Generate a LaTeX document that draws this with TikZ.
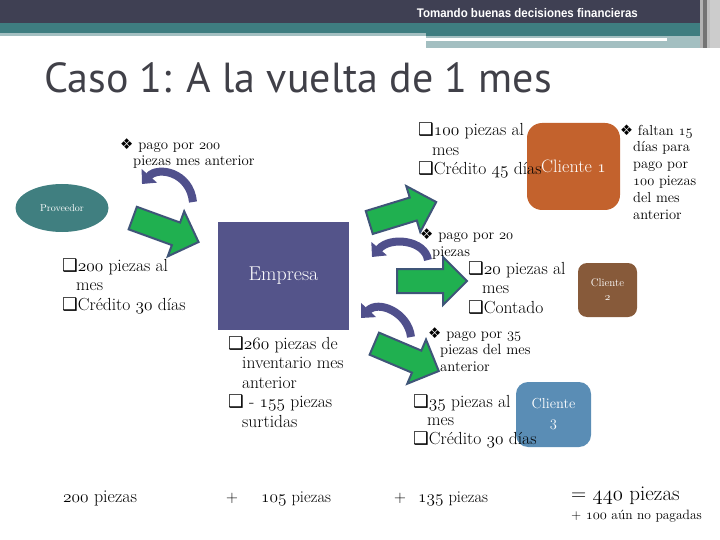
\documentclass[tikz,border=0pt]{standalone}
\usepackage{fontspec}
\usetikzlibrary{shapes.geometric,shapes.arrows,arrows.meta}

\definecolor{hdrdark}{RGB}{63,64,83}
\definecolor{hdrteal}{RGB}{62,125,128}
\definecolor{hdrlight}{RGB}{163,191,193}
\definecolor{titlegray}{RGB}{64,64,72}
\definecolor{provteal}{RGB}{64,127,128}
\definecolor{empblue}{RGB}{84,84,138}
\definecolor{arrgreen}{RGB}{32,176,80}
\definecolor{arredge}{RGB}{63,85,120}
\definecolor{curvblue}{RGB}{80,80,140}
\definecolor{cliorange}{RGB}{195,98,45}
\definecolor{clibrown}{RGB}{135,90,58}
\definecolor{clisteel}{RGB}{90,141,181}

\newfontfamily\dingf{DejaVu Sans}
\newfontfamily\headf[FakeStretch=0.92]{Liberation Sans}
\newfontfamily\titlef{PT Sans}

% old style figures
\newcommand\os[1]{{\fontencoding{OML}\fontfamily{lmm}\fontseries{m}\fontshape{it}\selectfont #1}}
\newcommand\ck{{\dingf ❑}}
\newcommand\dm{{\dingf ❖}}

% multi-line nodes are placed by the baseline of their last line
\tikzset{
  lst/.style={anchor=base west, align=left, inner sep=0pt, font=\fontsize{17.5}{19.5}\selectfont},
  sml/.style={anchor=base west, align=left, inner sep=0pt, font=\fontsize{14.8}{16.5}\selectfont},
  sumtxt/.style={anchor=base west, inner sep=0pt, font=\fontsize{16.5}{18}\selectfont},
  garrow/.style={single arrow, draw=arredge, fill=arrgreen, line width=2pt,
    minimum height=70pt, inner xsep=0pt, inner ysep=11pt, single arrow head extend=12pt},
  curv/.style={draw=curvblue, line width=8pt, -{Triangle[width=20pt,length=11pt]}},
  clibox/.style={inner sep=0pt, text=white, align=center},
}

\begin{document}
\begin{tikzpicture}[x=1pt,y=-1pt]
\useasboundingbox (0,0) rectangle (720,540);

% Header bands
\fill[hdrdark] (0,0) rectangle (700,23);
\fill[hdrteal] (0,23) rectangle (700,33);
\fill[hdrlight] (0,33) rectangle (426,36);
\fill[hdrteal] (426,33) rectangle (700,36);
\fill[hdrlight] (426,36) rectangle (700,48);
\fill[white] (426,38) rectangle (667,41);
\fill[gray!60] (700,0) rectangle (703,48);
\fill[gray!90!black] (703,0) rectangle (707,48);
\fill[gray!50] (707,0) rectangle (710,48);
\fill[gray!40] (710,0) rectangle (720,48);
\node[anchor=base east, inner sep=0pt, text=white, font=\headf\bfseries\fontsize{12.5}{13}\selectfont] (hdr) at (638,18) {Tomando buenas decisiones financieras};

% Title
\node[anchor=base west, inner sep=0pt, text=titlegray, font=\titlef\fontsize{42}{42}\selectfont] (title) at (44,93) {Caso 1: A la vuelta de 1 mes};

% Parties
\node[ellipse, fill=provteal, minimum width=93pt, minimum height=48pt, inner sep=0pt, text=white, font=\fontsize{10}{12}\selectfont] (prov) at (62,208) {Proveedor};
\node[fill=empblue, minimum width=131pt, minimum height=108pt, inner sep=0pt, text=white, font=\fontsize{20}{22}\selectfont] (emp) at (283.5,276) {Empresa};
\node[clibox, fill=cliorange, rounded corners=15pt, minimum width=93pt, minimum height=87pt, font=\fontsize{18}{20}\selectfont] (cli1) at (573.5,166.5) {Cliente \os{1}};
\node[clibox, fill=clibrown, rounded corners=9pt, minimum width=59pt, minimum height=54pt, font=\fontsize{11}{14}\selectfont] (cli2) at (607.5,290) {Cliente\\\os{2}};
\node[clibox, fill=clisteel, rounded corners=12pt, minimum width=75pt, minimum height=65pt, font=\fontsize{14.5}{21}\selectfont] (cli3) at (553.5,414.5) {Cliente\\3};

% Goods
\node[garrow, rotate=-20] (g1) at (160,228) {};
\node[garrow, rotate=17] (g2) at (397,214) {};
\node[garrow] (g3) at (426,281) {};
\node[garrow, rotate=-23] (g4) at (401,355) {};

% Payments
\draw[curv] (193,202) .. controls (190,172) and (158,166) .. (142,184);
\draw[curv] (428,260) .. controls (425,240) and (390,236) .. (372,257);
\draw[curv] (411,337) .. controls (408,312) and (378,300) .. (361,318);

% Terms
\node[sml] (pago200) at (120,166) {\dm\ pago por \os{200}\\\hspace*{13pt}piezas mes anterior};
\node[lst] (prov200) at (62,310) {\ck\os{200} piezas al\\\hspace*{14pt}mes\\\ck Crédito \os{30} días};
\node[lst] (inv) at (228,427) {\ck\os{260} piezas de\\\hspace*{14pt}inventario mes\\\hspace*{14pt}anterior\\\ck\ - \os{155} piezas\\\hspace*{14pt}surtidas};
\node[lst] (cli1txt) at (418,175) {\ck\os{100} piezas al\\\hspace*{14pt}mes\\\ck Crédito \os{45} días};
\node[sml, font=\fontsize{14.5}{16.8}\selectfont] (faltan) at (620,219) {\dm\ faltan \os{15}\\\hspace*{13pt}días para\\\hspace*{13pt}pago por\\\hspace*{13pt}\os{100} piezas\\\hspace*{13pt}del mes\\\hspace*{13pt}anterior};
\node[sml] (pago20) at (420,256) {\dm\ pago por \os{20}\\\hspace*{12pt}piezas};
\node[lst] (cli2txt) at (468,313) {\ck\os{20} piezas al\\\hspace*{14pt}mes\\\ck Contado};
\node[sml] (pago35) at (428,371) {\dm\ pago por \os{35}\\\hspace*{12pt}piezas del mes\\\hspace*{12pt}anterior};
\node[lst, font=\fontsize{17.5}{18.5}\selectfont] (cli3txt) at (413,444) {\ck\os{35} piezas al\\\hspace*{14pt}mes\\\ck Crédito \os{30} días};

% Sum
\node[sumtxt, font=\fontsize{18}{20}\selectfont] (sum1) at (63,502) {\os{200} piezas};
\node[sumtxt] (plus1) at (226,502) {+};
\node[sumtxt] (sum2) at (261,502) {\os{105} piezas};
\node[sumtxt] (plus2) at (394,502) {+};
\node[sumtxt] (sum3) at (418,502) {\os{135} piezas};
\node[sumtxt, font=\fontsize{21}{23}\selectfont] (total) at (571,500) {= \os{440} piezas};
\node[sumtxt, font=\fontsize{13.5}{15}\selectfont] (unpaid) at (571,519) {+ \os{100} aún no pagadas};
\end{tikzpicture}
\end{document}
